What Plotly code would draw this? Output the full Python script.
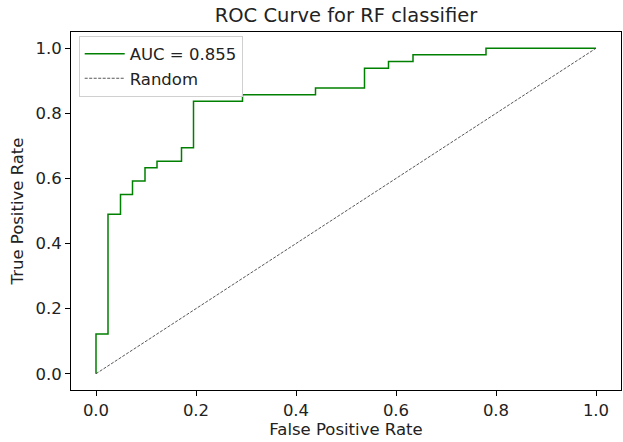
import plotly.graph_objects as go

# ROC curve vertices (false positive rate, true positive rate)
fpr = [0.0, 0.0, 0.024, 0.024, 0.049, 0.049, 0.073, 0.073, 0.098, 0.098,
       0.122, 0.122, 0.171, 0.171, 0.195, 0.195, 0.293, 0.293, 0.439, 0.439,
       0.537, 0.537, 0.585, 0.585, 0.634, 0.634, 0.780, 0.780, 1.0]
tpr = [0.0, 0.122, 0.122, 0.490, 0.490, 0.551, 0.551, 0.592, 0.592, 0.633,
       0.633, 0.653, 0.653, 0.694, 0.694, 0.837, 0.837, 0.857, 0.857, 0.878,
       0.878, 0.939, 0.939, 0.959, 0.959, 0.980, 0.980, 1.0, 1.0]
random_x = [0.0, 1.0]
random_y = [0.0, 1.0]
auc_label = "AUC = 0.855"
tick_vals = [0.0, 0.2, 0.4, 0.6, 0.8, 1.0]
tick_text = ["0.0", "0.2", "0.4", "0.6", "0.8", "1.0"]

FONT = "DejaVu Sans"
FS = 16.5

fig = go.Figure()
fig.add_trace(go.Scatter(x=fpr, y=tpr, mode="lines", name=auc_label,
                         line=dict(color="#008000", width=1.5)))
fig.add_trace(go.Scatter(x=random_x, y=random_y, mode="lines", name="Random",
                         line=dict(color="#444444", width=0.9, dash="3px,1.5px")))

axis_common = dict(
    range=[-0.05, 1.05], tickvals=tick_vals, ticktext=tick_text,
    showline=True, linecolor="black", linewidth=1, mirror=True,
    ticks="outside", ticklen=5, tickwidth=1, tickcolor="black",
    showgrid=False, zeroline=False,
    tickfont=dict(family=FONT, size=FS, color="#222222"),
)

fig.update_layout(
    width=623, height=442,
    margin=dict(l=71, r=2, t=32, b=52),
    paper_bgcolor="white", plot_bgcolor="white",
    font=dict(family=FONT, color="#222222"),
    title=dict(text="ROC Curve for RF classifier", x=(71 + 275) / 623, xanchor="center",
               y=1 - 15 / 442, yanchor="middle",
               font=dict(family=FONT, size=19.5, color="#222222")),
    xaxis=dict(**axis_common,
               title=dict(text="False Positive Rate", standoff=4,
                          font=dict(family=FONT, size=FS, color="#222222"))),
    yaxis=dict(**axis_common,
               title=dict(text="True Positive Rate", standoff=7,
                          font=dict(family=FONT, size=FS, color="#222222"))),
    legend=dict(x=0.014, y=0.99, xanchor="left", yanchor="top",
                bgcolor="rgba(255,255,255,0.8)", bordercolor="#d0d0d0", borderwidth=1,
                font=dict(family=FONT, size=FS, color="#222222"),
                itemwidth=40, tracegroupgap=0),
    showlegend=True,
)

fig.write_html("out.html")
